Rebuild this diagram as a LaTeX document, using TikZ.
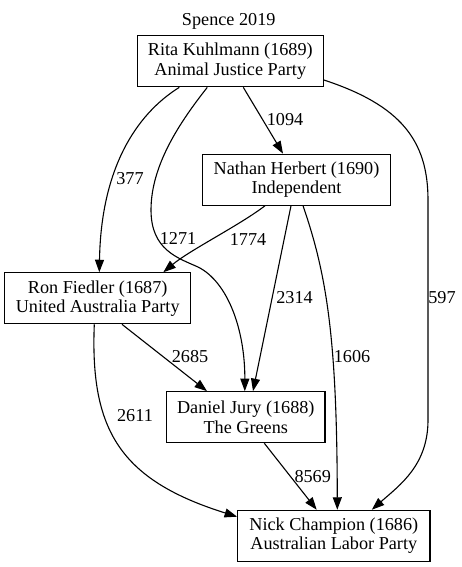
\documentclass[tikz,border=0pt]{standalone}
\usepackage{fontspec}
\setmainfont{Liberation Serif}
\usetikzlibrary{arrows.meta}
\newcommand\gvfont{\fontsize{18.2bp}{19.3bp}\selectfont}
\tikzset{
  box/.style={draw, line width=1.1bp, minimum width=#1, minimum height=51bp, inner sep=0pt, align=center, font=\gvfont},
  edge/.style={line width=1.1bp, -{Triangle[length=12.5bp,width=9bp]}},
  lbl/.style={font=\gvfont, inner sep=0pt}
}
\begin{document}
\begin{tikzpicture}[x=1bp,y=-1bp]
\useasboundingbox (0,0) rectangle (462,567);
\node[lbl, anchor=base] (title) at (228.7,25.7) {Spence 2019};
\node[box=186bp] (rita) at (230.3,61.3) {Rita Kuhlmann (1689)\\Animal Justice Party};
\node[box=188.4bp] (nathan) at (296.5,179.7) {Nathan Herbert (1690)\\Independent};
\node[box=186bp] (ron) at (97.7,298.3) {Ron Fiedler (1687)\\United Australia Party};
\node[box=158.3bp] (daniel) at (245.8,417.2) {Daniel Jury (1688)\\The Greens};
\node[box=192.3bp] (nick) at (333.8,535.8) {Nick Champion (1686)\\Australian Labor Party};

% edges
\draw[edge] ([xshift=13bp]rita.south) -- ([xshift=-13.5bp]nathan.north);
\draw[edge] ([xshift=-51bp]rita.south) .. controls (135,115) and (101,170) .. ([xshift=1.6bp]ron.north);
\draw[edge] ([xshift=-23bp]rita.south) .. controls (180,122) and (151,165) .. (151,210)
  .. controls (151,250) and (178,258) .. (198,267)
  .. controls (228,282) and (245,330) .. ([xshift=-1bp]daniel.north);
\draw[edge] ([yshift=-18.7bp]rita.east) .. controls (400,105) and (428,140) .. (428,200)
  -- (428,420) .. controls (428,465) and (400,485) .. ([xshift=38bp]nick.north);
\draw[edge] ([xshift=-31.5bp]nathan.south) .. controls (240,225) and (190,250) .. ([xshift=65.6bp]ron.north);
\draw[edge] ([xshift=-5.5bp]nathan.south) -- ([xshift=7.2bp]daniel.north);
\draw[edge] ([xshift=6.5bp]nathan.south) .. controls (327,275) and (337,340) .. ([xshift=3.5bp]nick.north);
\draw[edge] ([xshift=24.3bp]ron.south) -- ([xshift=-38.8bp]daniel.north);
\draw[edge] ([xshift=-3.4bp]ron.south) .. controls (90,430) and (120,480) .. ([yshift=19.1bp]nick.west);
\draw[edge] ([xshift=18.5bp]daniel.south) -- ([xshift=-17.1bp]nick.north);

% labels
\node[lbl] (l1094) at (285,120) {1094};
\node[lbl] (l377) at (130,179) {377};
\node[lbl] (l1271) at (178,238) {1271};
\node[lbl] (l1774) at (248,239) {1774};
\node[lbl] (l597) at (442,298) {597};
\node[lbl] (l2314) at (294.5,298) {2314};
\node[lbl] (l1606) at (352,357) {1606};
\node[lbl] (l2685) at (190,357) {2685};
\node[lbl] (l2611) at (135,416) {2611};
\node[lbl] (l8569) at (312.7,476.7) {8569};
\end{tikzpicture}
\end{document}
